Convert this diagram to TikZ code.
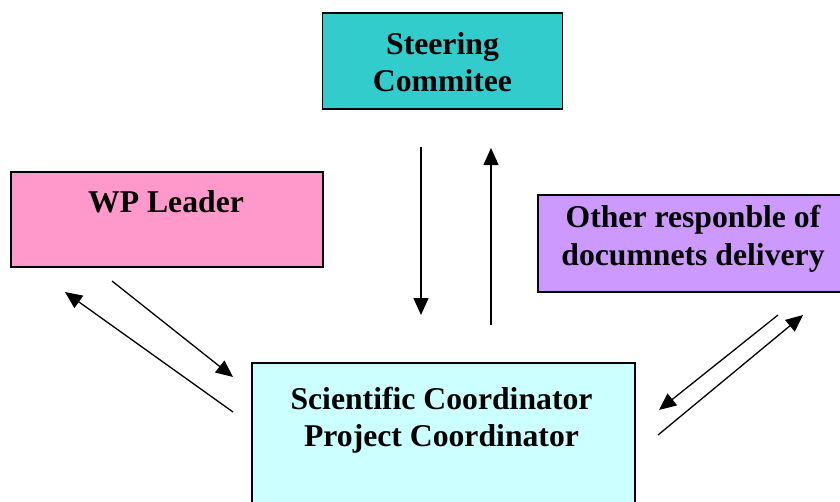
\documentclass[tikz,border=0pt]{standalone}
\usepackage{fontspec}
\setmainfont{Liberation Serif}
\usetikzlibrary{arrows.meta}
\definecolor{steercol}{HTML}{33CCCC}
\definecolor{wpcol}{HTML}{FF99CC}
\definecolor{othercol}{HTML}{CC99FF}
\definecolor{scicol}{HTML}{CCFFFF}
\tikzset{
  box/.style={draw=black, line width=1.5pt, inner sep=0pt, outer sep=0pt, rectangle},
  txt/.style={font=\bfseries\fontsize{31.7}{38}\selectfont, inner sep=0pt, anchor=base},
  conn/.style={line width=1.3pt, -{Triangle[length=17pt,width=15pt]}}
}
\begin{document}
\begin{tikzpicture}[x=1pt,y=-1pt]
\useasboundingbox (0,0) rectangle (840,501);
\clip (0,0) rectangle (840,501);
\fill[white] (0,0) rectangle (840,501);
% boxes
\node[box, fill=steercol, minimum width=240pt, minimum height=96pt] (steer) at (442.5,61) {};
\node[box, fill=wpcol, minimum width=312pt, minimum height=95pt] (wp) at (167,219.5) {};
\node[box, fill=othercol, minimum width=310pt, minimum height=97pt] (other) at (693,243.5) {};
\node[box, fill=scicol, minimum width=383pt, minimum height=182pt] (sci) at (443.5,454) {};
% texts
\node[txt] (steerA) at (442.5,54) {Steering};
\node[txt] (steerB) at (442.5,91.5) {Commitee};
\node[txt] (wpA) at (166,212.5) {WP Leader};
\node[txt] (otherA) at (693,227) {Other responble of};
\node[txt] (otherB) at (693,265) {documnets delivery};
\node[txt] (sciA) at (441.5,409.5) {Scientific Coordinator};
\node[txt] (sciB) at (441.5,446) {Project Coordinator};
% connector ends
\coordinate (d1s) at (421,147);
\coordinate (d1e) at (421,315);
\coordinate (u1s) at (491,325);
\coordinate (u1e) at (491,148);
\coordinate (w1s) at (112,281);
\coordinate (w1e) at (233,377);
\coordinate (w2s) at (233,412);
\coordinate (w2e) at (65,292);
\coordinate (o1s) at (778,315);
\coordinate (o1e) at (659,410);
\coordinate (o2s) at (658,435);
\coordinate (o2e) at (803,315);
% connectors
\draw[conn] (d1s) -- (d1e);
\draw[conn] (u1s) -- (u1e);
\draw[conn] (w1s) -- (w1e);
\draw[conn] (w2s) -- (w2e);
\draw[conn] (o1s) -- (o1e);
\draw[conn] (o2s) -- (o2e);
\end{tikzpicture}
\end{document}
